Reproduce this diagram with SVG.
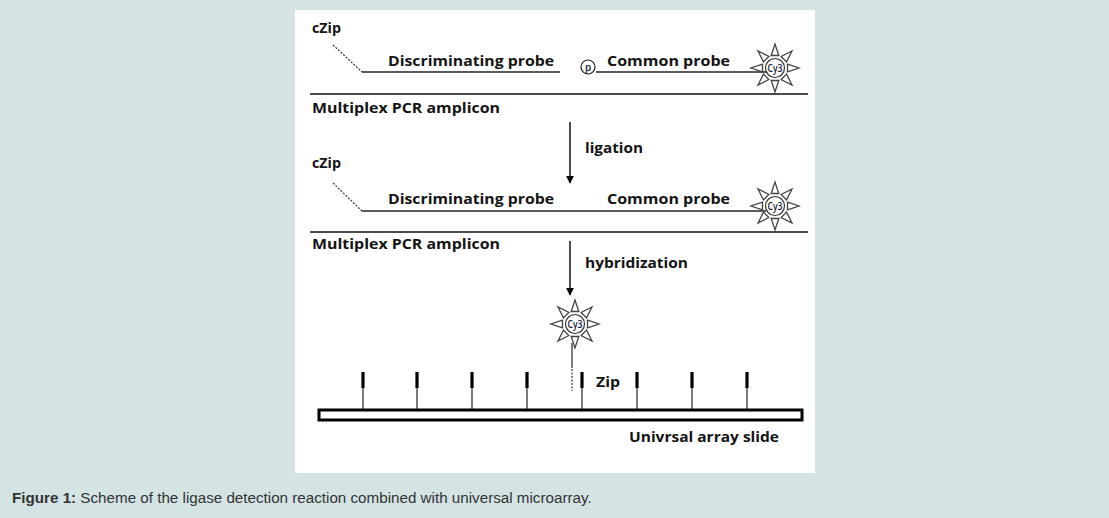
<svg xmlns="http://www.w3.org/2000/svg" xmlns:xlink="http://www.w3.org/1999/xlink" width="1109" height="518" viewBox="0 0 1109 518">
<style>
.lbl{font-family:"Open Sans","Liberation Sans",sans-serif;font-weight:bold;font-size:14px;fill:#141414}
.cy{font-family:"Open Sans","Liberation Sans",sans-serif;font-size:10px;font-weight:600;fill:#1a1a3a}
.probe{stroke:#5a5a5a;stroke-width:2;fill:none}
.dash{stroke:#333;stroke-width:1.2;stroke-dasharray:2 1.5;fill:none}
.amp{stroke:#111;stroke-width:1.5;fill:none}
.conn{stroke:#000;stroke-width:1.4;fill:none}
.cap{font-family:"Liberation Sans",Arial,sans-serif;font-size:15.2px;fill:#333}
</style>
<defs>
<marker id="ah" viewBox="0 0 10 10" refX="9" refY="5" markerWidth="8" markerHeight="8" markerUnits="userSpaceOnUse" orient="auto">
<path d="M0,0 L10,5 L0,10 z" fill="#000"/>
</marker>
<g id="ray"><path d="M12.5,-3.8 L24,0 L12.5,3.8 z" fill="#fff" stroke="#444" stroke-width="1.3" stroke-linejoin="miter"/></g>
<g id="star">
<use xlink:href="#ray"/>
<use xlink:href="#ray" transform="rotate(45)"/>
<use xlink:href="#ray" transform="rotate(90)"/>
<use xlink:href="#ray" transform="rotate(135)"/>
<use xlink:href="#ray" transform="rotate(180)"/>
<use xlink:href="#ray" transform="rotate(225)"/>
<use xlink:href="#ray" transform="rotate(270)"/>
<use xlink:href="#ray" transform="rotate(315)"/>
<circle r="9.5" fill="#fff" stroke="#333" stroke-width="1.2"/>
<text class="cy" x="0" y="3.5" text-anchor="middle" textLength="15" lengthAdjust="spacingAndGlyphs">Cy3</text>
</g>
<g id="zipprobe">
<line x1="0" y1="372" x2="0" y2="388" stroke="#000" stroke-width="3.2"/>
<line x1="0" y1="388" x2="0" y2="409" stroke="#222" stroke-width="1.2"/>
</g>
</defs>
<rect x="0" y="0" width="1109" height="518" fill="#d4e3e4"/>
<rect x="295" y="10" width="520" height="463" fill="#fff"/>

<g id="step1">
<g id="cZip1"><text class="lbl" x="312" y="33" textLength="29" lengthAdjust="spacingAndGlyphs">cZip</text>
<path class="dash" d="M333,45 L362,72"/></g>
<g id="discProbe1"><line class="probe" x1="362" y1="72" x2="560" y2="72"/>
<text class="lbl" x="388" y="66" textLength="166" lengthAdjust="spacingAndGlyphs">Discriminating  probe</text></g>
<g id="phos"><circle cx="588" cy="67" r="7" fill="#fff" stroke="#222" stroke-width="1.2"/>
<text class="cy" x="588" y="70.5" text-anchor="middle" font-size="10">p</text></g>
<g id="commonProbe1"><line class="probe" x1="596" y1="72" x2="766" y2="72"/>
<text class="lbl" x="607" y="66" textLength="123" lengthAdjust="spacingAndGlyphs">Common probe</text>
<use xlink:href="#star" x="775" y="68"/></g>
<g id="amplicon1"><line class="amp" x1="310" y1="94" x2="808" y2="94"/>
<text class="lbl" x="312" y="113" textLength="188" lengthAdjust="spacingAndGlyphs">Multiplex PCR amplicon</text></g>
</g>

<g id="step2">
<g id="cZip2"><text class="lbl" x="312" y="168" textLength="29" lengthAdjust="spacingAndGlyphs">cZip</text>
<path class="dash" d="M333,183 L362,211"/></g>
<g id="ligatedProbe"><line class="probe" x1="362" y1="211" x2="766" y2="211"/>
<text class="lbl" x="388" y="204" textLength="166" lengthAdjust="spacingAndGlyphs">Discriminating  probe</text>
<text class="lbl" x="607" y="204" textLength="123" lengthAdjust="spacingAndGlyphs">Common probe</text>
<use xlink:href="#star" x="775" y="206"/></g>
<g id="amplicon2"><line class="amp" x1="310" y1="232" x2="808" y2="232"/>
<text class="lbl" x="312" y="249" textLength="188" lengthAdjust="spacingAndGlyphs">Multiplex PCR amplicon</text></g>
</g>

<g id="step3">
<g id="hybridProbe"><use xlink:href="#star" x="575" y="324"/>
<line x1="572" y1="343" x2="572" y2="368" stroke="#222" stroke-width="1.2"/>
<line class="dash" x1="572" y1="369" x2="572" y2="391"/></g>
<g id="zipProbes">
<use xlink:href="#zipprobe" x="363"/>
<use xlink:href="#zipprobe" x="417"/>
<use xlink:href="#zipprobe" x="472"/>
<use xlink:href="#zipprobe" x="527"/>
<use xlink:href="#zipprobe" x="582"/>
<use xlink:href="#zipprobe" x="637"/>
<use xlink:href="#zipprobe" x="692"/>
<use xlink:href="#zipprobe" x="747"/>
<text class="lbl" x="596" y="387" textLength="24" lengthAdjust="spacingAndGlyphs">Zip</text></g>
<g id="slide"><rect x="319" y="410" width="483" height="10" fill="#fff" stroke="#000" stroke-width="3"/>
<text class="lbl" x="629" y="442" textLength="150" lengthAdjust="spacingAndGlyphs">Univrsal array slide</text></g>
</g>

<g id="connectors">
<line class="conn" x1="570" y1="122" x2="570" y2="183" marker-end="url(#ah)"/>
<text class="lbl" x="585" y="153" textLength="58" lengthAdjust="spacingAndGlyphs">ligation</text>
<line class="conn" x1="570" y1="241" x2="570" y2="295" marker-end="url(#ah)"/>
<text class="lbl" x="585" y="268" textLength="103" lengthAdjust="spacingAndGlyphs">hybridization</text>
</g>

<text class="cap" x="12" y="503"><tspan font-weight="bold">Figure 1:</tspan> Scheme of the ligase detection reaction combined with universal microarray.</text>
</svg>
